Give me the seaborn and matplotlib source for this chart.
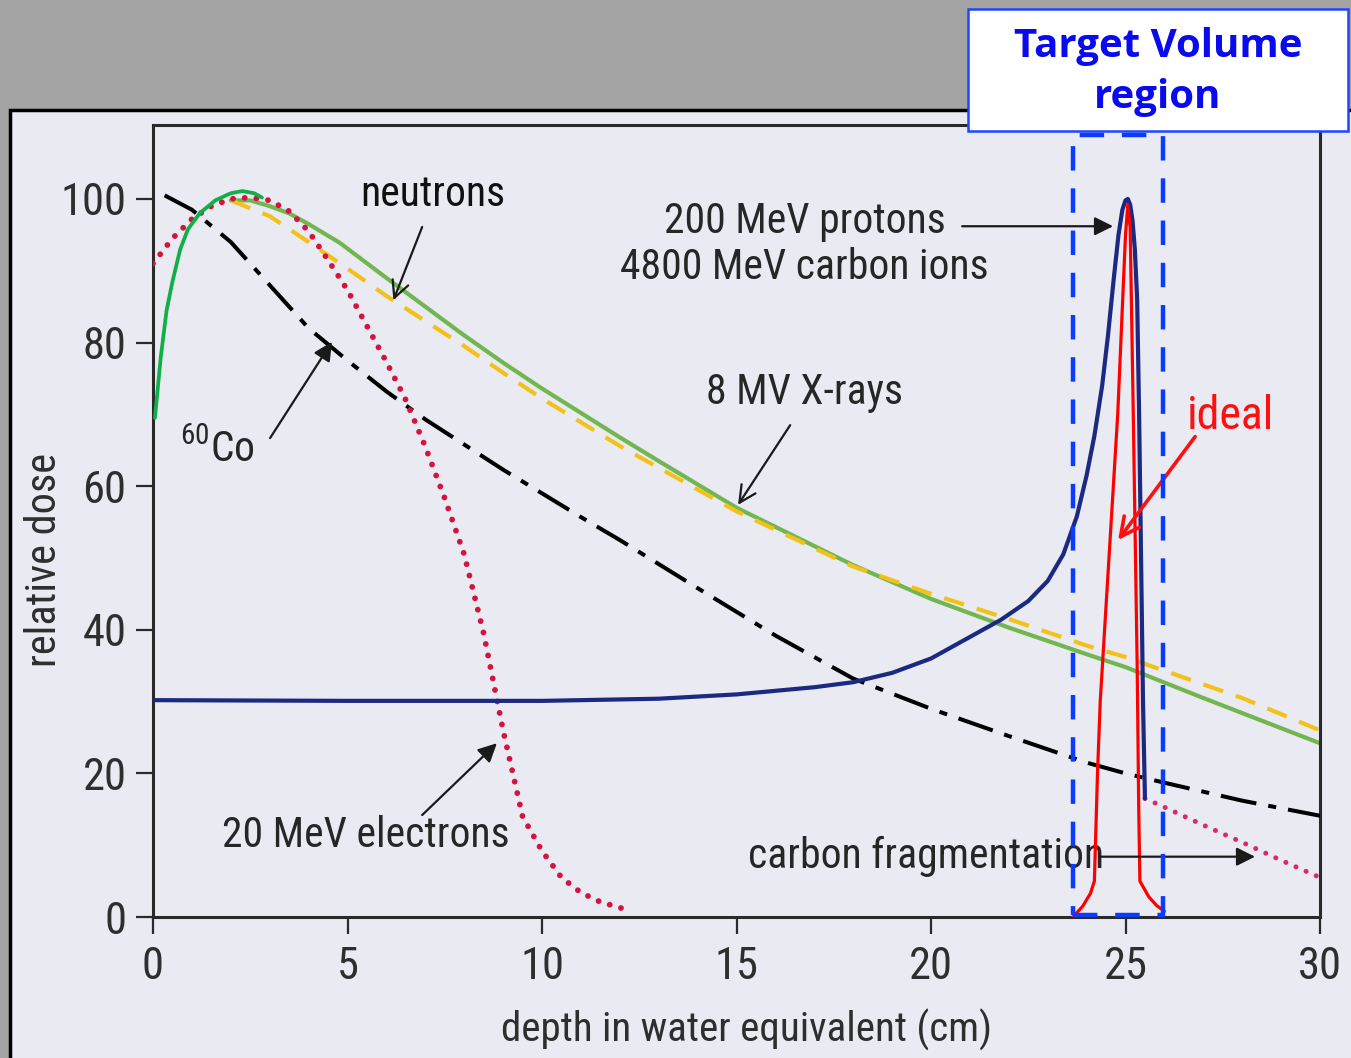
import numpy as np
import pandas as pd
import matplotlib
matplotlib.use("Agg")
import matplotlib.pyplot as plt
from matplotlib.patches import Rectangle
import seaborn as sns

# ---------------- data ----------------
cobalt_x = [0.3, 1, 2, 3, 4, 5, 6, 7, 8, 9, 10, 11, 12, 14, 16, 18, 20, 22, 24, 25, 26, 28, 30]
cobalt_y = [100.5, 98.5, 94, 88, 82, 77.5, 73.2, 69.3, 65.8, 62.3, 59, 55.7, 52.5, 45.8, 39.2, 33.2, 29, 25.2, 21.5, 20, 18.7, 16.2, 14.1]

buildup_x = [0.05, 0.2, 0.35, 0.5, 0.7, 0.9, 1.2, 1.6, 2.0, 2.3, 2.6, 2.8]
buildup_y = [69.5, 78, 84.5, 88.5, 93, 95.8, 98, 99.8, 100.8, 101.1, 100.8, 100.2]

xray_x = [2.0, 2.5, 3, 3.5, 4, 4.8, 6, 7, 8, 9, 10, 12, 13, 15, 18, 20, 22, 24, 25, 27, 28, 30]
xray_y = [99.8, 99.8, 99, 98, 96.5, 93.9, 89, 85, 81, 77.2, 73.6, 66.8, 63.5, 57, 49, 44.3, 40.3, 36.6, 34.8, 30.5, 28.4, 24.2]

neutron_x = [2.0, 3, 4, 5, 6, 7, 8, 9, 10, 12, 15, 18, 20, 22, 24, 25, 28, 30]
neutron_y = [99.8, 97.6, 94, 90.3, 86.5, 83, 79.5, 75.8, 72.2, 65.6, 56.5, 48.8, 45, 41.5, 37.8, 36.2, 30.5, 26]

electron_x = [0, 0.5, 1, 1.5, 2, 2.5, 3, 3.5, 4, 4.5, 5, 5.5, 6, 6.5, 7, 7.5, 8, 8.5, 9, 9.5, 10, 10.5, 11, 11.5, 12, 12.2]
electron_y = [91, 94.5, 97.2, 99, 100, 100.2, 99.8, 98.3, 95.5, 91.5, 87.3, 82.3, 77.3, 72, 65.5, 58.3, 50.5, 39.5, 26, 14, 9.2, 5.5, 3.4, 2.1, 1.3, 1.0]

proton_x = [0, 5, 10, 13, 15, 17, 18, 19, 20, 21, 21.8, 22.5, 23, 23.4, 23.75, 24.0, 24.2, 24.4, 24.55, 24.7, 24.82, 24.92, 25.0, 25.06, 25.12, 25.18, 25.24, 25.3, 25.35, 25.4, 25.45, 25.5]
proton_y = [30.2, 30.1, 30.1, 30.4, 31, 32, 32.7, 34, 36, 39, 41.4, 44, 46.8, 50.5, 55.8, 61.5, 67, 74, 81, 89, 95, 98.5, 99.8, 100, 99.2, 97, 93, 86, 70, 50, 30, 16.5]

fragment_x = [25.5, 26, 27, 28, 29, 30]
fragment_y = [16.5, 15.3, 12.8, 10.4, 7.9, 5.5]

ideal_x = [23.65, 23.9, 24.1, 24.2, 24.28, 24.35, 24.8, 25.0, 25.06, 25.12, 25.2, 25.3, 25.34, 25.37, 25.6, 25.8, 26.0]
ideal_y = [0, 1.5, 3.3, 5, 20, 30, 70, 95, 99.2, 96, 70, 35, 15, 5, 2.8, 1.6, 0.8]

x_ticks = [0, 5, 10, 15, 20, 25, 30]
y_ticks = [0, 20, 40, 60, 80, 100]
target_region = (23.65, 25.96)

# ---------------- style ----------------
PANEL = "#eaeaf3"
sns.set_theme(style="ticks")
NARROW = ["Roboto Condensed", "Archivo Narrow", "PT Sans Narrow", "DejaVu Sans"]
plt.rcParams["font.family"] = NARROW
plt.rcParams["mathtext.fontset"] = "custom"
plt.rcParams["mathtext.rm"] = "Roboto Condensed"

fig = plt.figure(figsize=(13.51, 10.58), dpi=100, facecolor="#a4a4a4")
fig.add_artist(Rectangle((10 / 1351, -0.05), 1.1, 1 - 110 / 1058 + 0.05,
                         transform=fig.transFigure, facecolor=PANEL,
                         edgecolor="black", lw=2.5, zorder=-5))

ax = fig.add_axes([153 / 1351, 1 - 917 / 1058, 1167 / 1351, 792 / 1058])
ax.set_facecolor(PANEL)

def line(x, y, **kw):
    df = pd.DataFrame({"x": x, "y": y})
    sns.lineplot(data=df, x="x", y="y", ax=ax, estimator=None, sort=False, **kw)

line(cobalt_x, cobalt_y, color="black", lw=2.9, linestyle=(0, (9, 3, 2, 3)), zorder=3)
line(neutron_x, neutron_y, color="#f2c21a", lw=3.0, linestyle=(0, (5, 3.2)), zorder=3)
line(xray_x, xray_y, color="#72b650", lw=3.0, zorder=2.5)
line(electron_x, electron_y, color="#d3143f", lw=4.2, linestyle=(0, (0.01, 2.0)),
     dash_capstyle="round", zorder=3.5)
line(buildup_x, buildup_y, color="#10b048", lw=2.7, zorder=4)
line(proton_x, proton_y, color="#1b2a80", lw=3.0, zorder=4)
line(fragment_x, fragment_y, color="#d8286f", lw=3.6, linestyle=(0, (0.01, 2.2)),
     dash_capstyle="round", zorder=3.5)
line(ideal_x, ideal_y, color="#ff0000", lw=2.3, zorder=5)

ax.set_xlim(0, 30)
ax.set_ylim(0, 110.3)
ax.set_xticks(x_ticks)
ax.set_yticks(y_ticks)
ax.set_xticklabels([str(v) for v in x_ticks])
ax.set_yticklabels([str(v) for v in y_ticks])
for s in ax.spines.values():
    s.set_visible(True)
    s.set_color("#2a2a2a")
    s.set_linewidth(2.2)
ax.tick_params(axis="both", direction="out", length=12, width=1.6, color="#2a2a2a",
               labelsize=32, labelcolor="#2e2e2e")
ax.tick_params(axis="y", pad=7)
ax.tick_params(axis="x", pad=9)

ax.set_xlabel("depth in water equivalent (cm)", fontsize=29.5, color="#2e2e2e")
ax.set_ylabel("relative dose", fontsize=30.5, color="#2e2e2e")
ax.xaxis.set_label_coords(0.509, -0.1427)
ax.xaxis.label.set_va("center")
ax.yaxis.set_label_coords(-0.0934, 0.4508)
ax.yaxis.label.set_va("center")

TXT = "#262626"
fs = 30
ax.text(7.2, 100.6, "neutrons", fontsize=fs, color="#111111", ha="center", va="center")
ax.text(16.75, 96.9, "200 MeV protons", fontsize=fs, color=TXT, ha="center", va="center")
ax.text(16.75, 90.4, "4800 MeV carbon ions", fontsize=fs, color=TXT, ha="center", va="center")
ax.text(16.76, 73.0, "8 MV X-rays", fontsize=fs, color=TXT, ha="center", va="center")
ax.text(0.69, 65.0, r"$^{60}$Co", fontsize=fs, color=TXT, ha="left", va="center")
ax.text(5.46, 11.4, "20 MeV electrons", fontsize=fs, color=TXT, ha="center", va="center")
ax.text(19.87, 8.4, "carbon fragmentation", fontsize=fs, color=TXT, ha="center", va="center")
ax.text(27.69, 69.8, "ideal", fontsize=33, color="#ff1010", ha="center", va="center")

def arrow(tail, head, style="-|>", color="#1a1a1a", lw=1.6, ms=28):
    ax.annotate("", xy=head, xytext=tail,
                arrowprops=dict(arrowstyle=style, color=color, lw=lw, mutation_scale=ms,
                                shrinkA=0, shrinkB=0), zorder=6)

arrow((6.92, 96.1), (6.18, 85.9), style="->", ms=30)
arrow((3.01, 66.7), (4.60, 80.1))
arrow((16.38, 68.5), (15.04, 57.4), style="->", ms=30)
arrow((20.8, 96.2), (24.68, 96.2))
arrow((6.92, 14.2), (8.84, 24.2))
arrow((24.34, 8.4), (28.33, 8.4))
arrow((26.79, 66.9), (24.81, 52.5), style="->", color="#ff1010", lw=2.6, ms=34)

ax.add_patch(Rectangle((target_region[0], 0.3), target_region[1] - target_region[0], 108.6,
                       fill=False, edgecolor="#0a3cff", lw=3.2, linestyle=(0, (5.5, 4)),
                       clip_on=False, zorder=7))

fig.add_artist(Rectangle((968 / 1351, 1 - 131 / 1058), 380 / 1351, 122 / 1058,
                         transform=fig.transFigure, facecolor="white",
                         edgecolor="#1e46ff", lw=1.8, zorder=10))
fig.text(1158 / 1351, 1 - 72 / 1058, "Target Volume\nregion", fontsize=29,
         family=["Open Sans", "DejaVu Sans"], fontweight="bold", color="#0a0aee",
         ha="center", va="center", linespacing=1.4, zorder=11)

fig.savefig("out.png", dpi=100, facecolor=fig.get_facecolor())
